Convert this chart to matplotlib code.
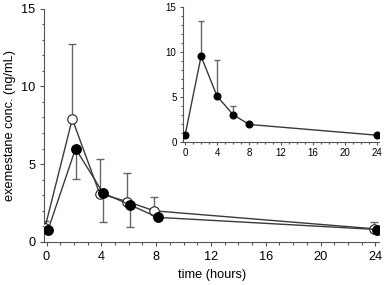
import matplotlib
matplotlib.use("Agg")
import matplotlib.pyplot as plt
from matplotlib.ticker import MultipleLocator

plt.rcParams['font.family'] = ['Liberation Sans', 'DejaVu Sans']

# Main panel data
time_h = [0, 2, 4, 6, 8, 24]
open_conc = [0.9, 7.9, 3.1, 2.6, 2.0, 0.85]
open_err_up = [0.45, 4.8, 2.2, 1.85, 0.9, 0.45]
filled_conc = [0.8, 6.0, 3.15, 2.37, 1.58, 0.8]
filled_err_dn = [0.2, 1.95, 1.85, 1.42, 0.0, 0.2]

# Inset data
inset_conc = [0.7, 9.5, 5.05, 3.0, 1.9, 0.7]
inset_err_up = [0.0, 3.9, 4.0, 1.0, 0.0, 0.0]

off = 0.12
line_col = '#3a3a3a'
err_col = '#666666'

fig = plt.figure(figsize=(3.85, 2.85), dpi=100)
ax = fig.add_axes([0.1155, 0.151, 0.870, 0.819])

t_open = [t - off for t in time_h]
t_fill = [t + off for t in time_h]

ax.errorbar(t_open, open_conc, yerr=[[0]*len(open_conc), open_err_up],
            fmt='none', ecolor=err_col, elinewidth=1, capsize=3, capthick=1, zorder=1)
ax.errorbar(t_fill, filled_conc, yerr=[filled_err_dn, [0]*len(filled_conc)],
            fmt='none', ecolor=err_col, elinewidth=1, capsize=3, capthick=1, zorder=1)
ax.plot(t_open, open_conc, '-', color=line_col, lw=1, marker='o', ms=6.8,
        mfc='white', mec='#222222', mew=0.8, zorder=3)
ax.plot(t_fill, filled_conc, '-', color=line_col, lw=1, marker='o', ms=6.8,
        mfc='black', mec='black', zorder=4)

ax.set_xlim(-0.15, 24.3)
ax.set_ylim(0, 15)
ax.set_xticks([0, 4, 8, 12, 16, 20, 24])
ax.set_yticks([0, 5, 10, 15])
ax.xaxis.set_minor_locator(MultipleLocator(1))
ax.yaxis.set_minor_locator(MultipleLocator(1))
for s in ['top', 'right']:
    ax.spines[s].set_visible(False)
for s in ['left', 'bottom']:
    ax.spines[s].set_color('#555555')
    ax.spines[s].set_linewidth(0.8)
ax.tick_params(which='major', direction='out', length=3, width=0.8, color='#555555',
               labelsize=9.2, pad=3.5)
ax.tick_params(which='minor', direction='out', length=1.8, width=0.8, color='#555555')
ax.set_xlabel('time (hours)', fontsize=9.2, labelpad=4)
ax.set_ylabel('exemestane conc. (ng/mL)', fontsize=9.2, labelpad=4)

# Inset
ax2 = fig.add_axes([0.4766, 0.5035, 0.507, 0.472])
ax2.errorbar(time_h, inset_conc, yerr=[[0]*len(inset_conc), inset_err_up],
             fmt='none', ecolor=err_col, elinewidth=1, capsize=2, capthick=1, zorder=1)
ax2.plot(time_h, inset_conc, '-', color=line_col, lw=1, marker='o', ms=4.8,
         mfc='black', mec='black', zorder=3)
ax2.set_xlim(-0.2, 24.2)
ax2.set_ylim(0, 15)
ax2.set_xticks([0, 4, 8, 12, 16, 20, 24])
ax2.set_yticks([0, 5, 10, 15])
ax2.xaxis.set_minor_locator(MultipleLocator(1))
ax2.yaxis.set_minor_locator(MultipleLocator(1))
for s in ['top', 'right']:
    ax2.spines[s].set_visible(False)
for s in ['left', 'bottom']:
    ax2.spines[s].set_color('#555555')
    ax2.spines[s].set_linewidth(0.8)
ax2.tick_params(which='major', direction='out', length=2.5, width=0.8, color='#555555',
                labelsize=7, pad=2.5)
ax2.tick_params(which='minor', direction='out', length=1.5, width=0.8, color='#555555')

fig.savefig('out.png', dpi=100)
